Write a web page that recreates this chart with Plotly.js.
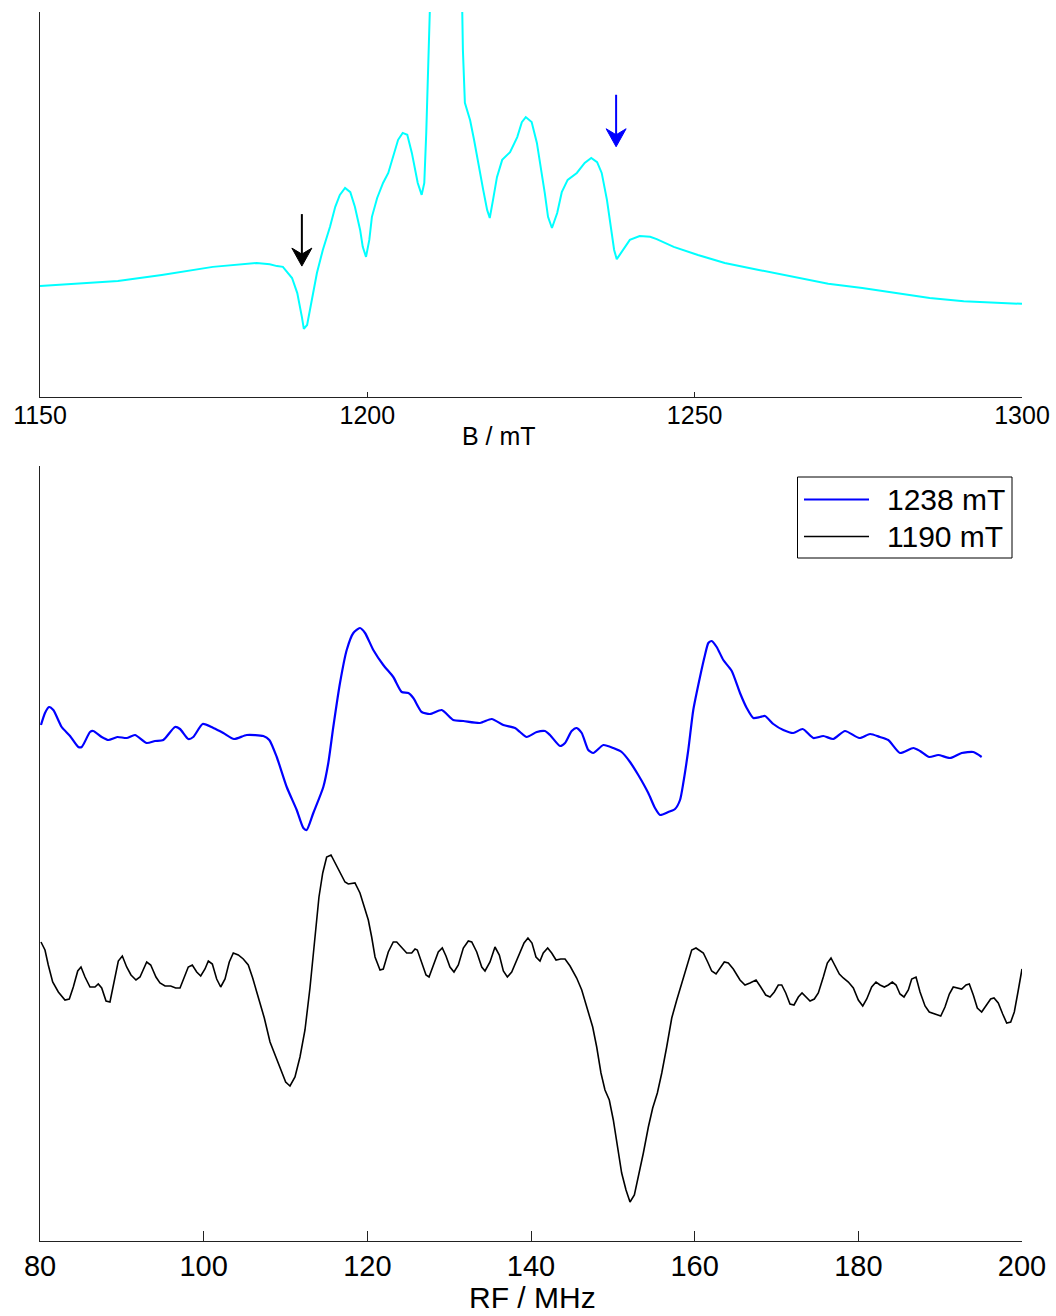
<!DOCTYPE html>
<html>
<head>
<meta charset="utf-8">
<script src="https://cdn.plot.ly/plotly-3.0.1.min.js"></script>
<style>
  html, body { margin: 0; padding: 0; background: #ffffff; }
  #chart { width: 1056px; height: 1316px; }
</style>
</head>
<body>
<div id="chart"></div>
<script>
// Field-swept EPR spectrum (top) and ENDOR spectra at two field positions (bottom).

// EPR field sweep: magnetic field (mT) and signal (a.u.)
const fieldB = [1150.0,1161.9,1168.6,1176.4,1183.1,1185.1,1186.2,1187.1,1188.5,1189.3,
  1190.0,1190.3,1190.8,1191.5,1192.3,1193.2,1194.3,1195.1,1195.8,1196.6,
  1197.4,1198.1,1198.9,1199.3,1199.8,1200.3,1200.7,1201.5,1202.4,1203.2,
  1203.9,1204.7,1205.4,1206.1,1206.8,1207.3,1207.7,1208.3,1208.7,1209.0,
  1209.3,1209.6,1209.8,1212.0,1214.3,1214.5,1214.6,1214.9,1215.7,1216.3,
  1216.9,1217.7,1218.3,1218.7,1219.2,1219.8,1220.6,1221.8,1222.9,1223.6,
  1224.2,1225.1,1225.9,1226.5,1227.1,1227.6,1228.2,1229.0,1229.7,1230.6,
  1232.0,1233.2,1234.2,1235.1,1235.8,1236.6,1237.2,1237.7,1238.1,1239.0,
  1240.1,1241.6,1243.2,1244.2,1246.8,1250.5,1254.6,1259.8,1265.1,1270.4,
  1275.6,1280.7,1285.9,1291.1,1296.5,1300.0];
const eprSignal = [28.8,30.1,31.7,33.8,34.8,34.5,34.0,33.8,30.9,27.0,
  20.8,17.7,18.7,25.2,32.2,38.2,44.2,49.4,52.5,54.3,
  53.2,49.4,43.4,39.0,36.4,40.8,46.8,51.7,55.6,58.2,
  62.3,66.8,68.6,68.1,63.4,59.0,55.6,52.5,55.6,68.6,
  85.7,100,115,170,115,100,90.1,76.4,71.9,66.8,
  60.8,53.8,48.6,46.5,51.2,57.1,61.6,63.6,67.5,71.4,
  72.7,71.4,66.0,59.7,53.0,46.8,43.9,47.8,53.2,56.4,
  58.2,60.8,62.1,61.0,58.2,51.2,44.2,38.2,35.8,38.2,
  40.8,41.8,41.6,41.0,39.0,36.9,34.8,33.0,31.2,29.4,
  28.3,27.0,25.7,24.9,24.4,24.2];

// Field positions at which the ENDOR spectra were recorded (mT)
const endorFields = [1238, 1190];

// ENDOR at 1238 mT: radio frequency (MHz) and signal (a.u.)
const rf1238 = [80.12,80.61,81.10,81.63,82.65,83.67,84.68,85.10,86.11,86.51,
  87.54,88.35,89.45,90.59,91.61,93.04,94.05,95.07,96.50,97.11,
  98.12,98.73,99.88,101.18,102.40,103.71,105.26,107.29,108.02,108.93,
  110.15,111.37,112.18,112.59,113.40,114.62,115.23,115.84,116.66,117.48,
  118.29,119.10,119.72,120.73,121.95,123.17,124.20,125.01,125.62,126.64,
  127.66,129.09,130.51,131.73,133.77,135.20,136.62,138.05,138.66,139.47,
  140.70,141.71,142.32,143.55,144.16,144.97,145.58,146.20,147.00,147.61,
  148.84,150.06,151.08,152.10,153.11,154.33,155.15,155.77,156.78,157.60,
  158.21,158.61,159.22,159.83,160.65,161.26,161.67,162.08,162.69,163.50,
  164.53,165.54,166.36,167.17,167.99,168.60,169.61,170.83,172.05,173.20,
  174.50,175.72,176.94,178.37,180.12,181.43,182.65,183.66,185.09,186.72,
  187.54,188.67,189.77,191.20,192.63,194.05,195.07];
const endor1238 = [516,528,534,531,514,505,494,494,509,510,
  504,501,504,503,506,498,500,501,514,512,
  502,504,517,513,508,502,506,505,501,484,
  454,431,413,411,428,454,478,514,558,591,
  608,613,608,591,576,564,549,548,543,529,
  527,531,521,520,518,522,516,513,509,504,
  509,510,506,495,498,510,513,508,491,488,
  496,493,489,479,466,448,433,426,429,432,
  441,458,491,531,564,586,598,600,594,581,
  570,548,533,523,524,525,517,511,508,512,
  503,505,502,510,503,507,504,501,488,493,
  490,484,486,483,488,489,484];

// ENDOR at 1190 mT: radio frequency (MHz) and signal (a.u.)
const rf1190 = [80.12,80.61,81.01,81.55,82.24,83.05,83.58,84.07,84.61,85.01,
  85.50,86.11,86.72,87.12,87.54,88.07,88.55,89.04,89.57,90.06,
  90.59,91.12,91.73,92.22,93.04,93.53,94.17,94.66,95.28,95.97,
  96.58,97.11,97.72,98.12,98.61,99.15,99.64,100.16,100.57,101.06,
  101.59,102.08,102.61,103.13,103.62,104.23,104.84,105.45,105.99,106.68,
  107.41,108.11,108.72,109.41,110.02,110.55,111.16,111.77,112.38,112.99,
  113.60,114.09,114.55,115.03,115.56,116.17,116.78,117.27,117.67,118.49,
  119.10,119.59,120.12,120.53,120.94,121.55,121.95,122.56,123.17,123.59,
  124.20,124.81,125.42,125.83,126.11,126.64,127.17,127.54,128.06,128.67,
  129.16,129.61,130.10,130.59,131.12,131.73,132.34,132.76,133.37,133.98,
  134.38,134.99,135.60,136.13,136.62,137.11,137.64,138.25,138.66,139.15,
  139.63,140.12,140.61,141.10,141.50,142.04,142.53,143.06,143.63,144.16,
  144.77,145.58,146.20,146.81,147.54,148.03,148.55,149.04,149.57,150.06,
  150.55,151.08,151.61,152.10,152.63,153.11,153.73,154.34,154.87,155.44,
  155.98,156.58,157.20,157.81,158.42,159.03,159.64,160.16,161.06,161.59,
  162.08,162.61,163.10,163.62,164.11,164.72,165.54,166.15,166.76,167.50,
  168.07,168.68,169.21,169.73,170.22,170.64,171.13,171.65,172.14,172.67,
  173.12,173.61,174.10,174.62,175.11,175.72,176.21,176.66,177.15,177.68,
  178.16,178.78,179.39,180.00,180.54,181.03,181.63,182.16,182.65,183.18,
  183.66,184.15,184.61,185.09,185.58,186.11,186.52,187.05,187.54,188.15,
  188.67,189.37,190.07,190.59,191.12,191.60,192.09,192.63,193.16,193.56,
  194.05,194.54,195.07,195.60,196.17,196.58,197.10,197.64,198.13,198.62,
  199.06,199.55,200.00];
const endor1190 = [299,291,276,259,249,241,242,254,270,274,
  264,254,254,257,253,240,239,259,280,285,
  274,266,261,264,279,276,264,258,255,255,
  253,253,265,274,276,269,265,272,280,277,
  262,254,262,279,288,286,282,276,263,243,
  223,199,186,173,159,155,164,184,211,253,
  304,344,368,384,386,376,366,359,357,358,
  348,334,321,304,284,271,272,289,299,299,
  293,288,288,292,291,278,266,264,275,289,
  293,285,274,269,276,293,300,299,289,274,
  270,279,294,286,270,264,269,281,289,298,
  303,298,284,280,288,293,288,281,282,282,
  275,263,251,234,214,194,168,151,141,121,
  94,68,51,39,46,64,88,114,133,148,
  168,194,223,241,258,276,291,293,288,279,
  270,267,273,279,278,272,261,256,258,261,
  254,246,244,249,256,256,248,237,236,244,
  248,244,240,242,248,264,278,283,276,267,
  263,259,253,241,235,242,254,259,256,254,
  256,259,256,247,244,251,262,264,249,235,
  229,227,225,234,247,254,253,252,256,257,
  246,233,229,235,242,243,238,227,218,219,
  229,251,272];

// Axis tick values
const fieldTicks = [1150, 1200, 1250, 1300];
const rfTicks = [80, 100, 120, 140, 160, 180, 200];

// ---- page geometry (pixels) ----
const W = 1056, H = 1316;
const left = 40, right = 1022;
const topPanel = { top: 12, bottom: 397 };
const botPanel = { top: 466, bottom: 1241 };
const fx = px => px / W;
const fy = py => 1 - py / H;

const FONT = 'Liberation Sans, Arial, Helvetica, sans-serif';
const COLORS = { epr: '#00ffff', high: '#0000ff', low: '#000000' };

const traces = [
  {
    x: fieldB, y: eprSignal, xaxis: 'x', yaxis: 'y',
    type: 'scatter', mode: 'lines', showlegend: false,
    line: { color: COLORS.epr, width: 2 }, hoverinfo: 'skip'
  },
  {
    x: rf1238, y: endor1238, xaxis: 'x2', yaxis: 'y2',
    type: 'scatter', mode: 'lines', name: endorFields[0] + ' mT', showlegend: false,
    line: { color: COLORS.high, width: 2.2, shape: 'spline', smoothing: 0.6 }
  },
  {
    x: rf1190, y: endor1190, xaxis: 'x2', yaxis: 'y2',
    type: 'scatter', mode: 'lines', name: endorFields[1] + ' mT', showlegend: false,
    line: { color: COLORS.low, width: 1.6 }
  }
];

const baseX = {
  showline: true, linecolor: '#222222', linewidth: 1,
  ticks: 'inside', tickcolor: '#222222', tickwidth: 1,
  showgrid: false, zeroline: false, fixedrange: true,
  tickmode: 'array'
};
const baseY = {
  showline: true, linecolor: '#222222', linewidth: 1,
  ticks: '', showticklabels: false,
  showgrid: false, zeroline: false, fixedrange: true
};

// Arrow markers on the field sweep at the ENDOR field positions
function arrow(field, tipY, color) {
  const common = {
    xref: 'x', yref: 'y', xsizemode: 'pixel', ysizemode: 'pixel',
    xanchor: field, yanchor: tipY, layer: 'above'
  };
  return [
    Object.assign({}, common, {
      type: 'path', path: 'M0,10L0,52',
      line: { color: color, width: 2 }
    }),
    Object.assign({}, common, {
      type: 'path', path: 'M0,0L-10,18L0,12L10,18Z',
      fillcolor: color, line: { color: color, width: 1 }
    })
  ];
}

// Boxed key for the two ENDOR traces
const keyBox = { x0: 797.5, x1: 1012, y0: 477, y1: 558 };
const keyRows = [
  { y: 499.5, color: COLORS.high, width: 2.2, label: endorFields[0] + ' mT' },
  { y: 536.5, color: COLORS.low, width: 1.6, label: endorFields[1] + ' mT' }
];
const keyShapes = [{
  type: 'rect', xref: 'paper', yref: 'paper', layer: 'above',
  x0: fx(keyBox.x0), x1: fx(keyBox.x1), y0: fy(keyBox.y1), y1: fy(keyBox.y0),
  fillcolor: '#ffffff', line: { color: '#000000', width: 1 }
}].concat(keyRows.map(r => ({
  type: 'line', xref: 'paper', yref: 'paper', layer: 'above',
  x0: fx(804), x1: fx(869), y0: fy(r.y), y1: fy(r.y),
  line: { color: r.color, width: r.width }
})));
const keyLabels = keyRows.map(r => ({
  text: r.label, xref: 'paper', yref: 'paper', x: fx(885), y: fy(r.y),
  xanchor: 'left', yanchor: 'middle', showarrow: false,
  font: { size: 30, family: FONT, color: '#000' }
}));

const layout = {
  width: W, height: H,
  margin: { l: 0, r: 0, t: 0, b: 0 },
  paper_bgcolor: '#ffffff', plot_bgcolor: '#ffffff',
  font: { family: FONT, color: '#000000' },
  showlegend: false,
  xaxis: Object.assign({}, baseX, {
    domain: [fx(left), fx(right)], range: [1150, 1300], anchor: 'y',
    tickvals: fieldTicks, ticktext: fieldTicks.map(String),
    ticklen: 5, ticklabelstandoff: -4,
    tickfont: { size: 25, family: FONT, color: '#000' }
  }),
  yaxis: Object.assign({}, baseY, {
    domain: [fy(topPanel.bottom), fy(topPanel.top)], range: [0, 100], anchor: 'x'
  }),
  xaxis2: Object.assign({}, baseX, {
    domain: [fx(left), fx(right)], range: [80, 200], anchor: 'y2',
    tickvals: rfTicks, ticktext: rfTicks.map(String),
    ticklen: 10, ticklabelstandoff: -1,
    tickfont: { size: 29, family: FONT, color: '#000' }
  }),
  yaxis2: Object.assign({}, baseY, {
    domain: [fy(botPanel.bottom), fy(botPanel.top)], range: [0, 775], anchor: 'x2'
  }),
  annotations: [
    { text: 'B / mT', xref: 'paper', yref: 'paper', x: fx(499), y: fy(436),
      xanchor: 'center', yanchor: 'middle', showarrow: false,
      font: { size: 25, family: FONT, color: '#000' } },
    { text: 'RF / MHz', xref: 'paper', yref: 'paper', x: fx(532), y: fy(1297),
      xanchor: 'center', yanchor: 'middle', showarrow: false,
      font: { size: 30, family: FONT, color: '#000' } }
  ].concat(keyLabels),
  shapes: [].concat(
    arrow(endorFields[1], 34.0, COLORS.low),
    arrow(endorFields[0], 65.0, COLORS.high),
    keyShapes
  )
};

Plotly.newPlot('chart', traces, layout, { displayModeBar: false, staticPlot: true });
</script>
</body>
</html>
